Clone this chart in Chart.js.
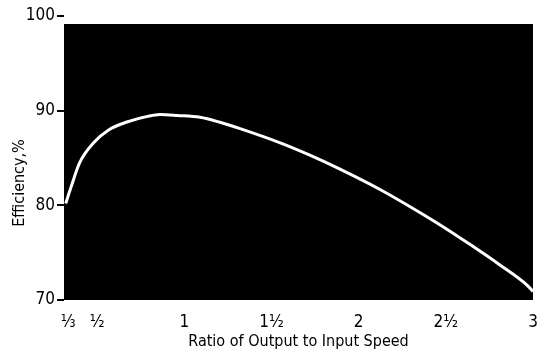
<!DOCTYPE html>
<html>
<head>
<meta charset="utf-8">
<script src="https://cdn.jsdelivr.net/npm/chart.js@4"></script>
<style>
  html, body { margin: 0; padding: 0; background: #fff; }
  #wrap { width: 559px; height: 355px; }
</style>
</head>
<body>
<div id="wrap"><canvas id="effChart" width="559" height="355"></canvas></div>
<script>
// speed ratio (output / input) and efficiency
var ratios = [0.32, 0.35, 0.40, 0.48, 0.57, 0.67, 0.79, 0.86, 0.96, 1.09, 1.20, 1.32, 1.55, 1.72, 1.89, 2.12, 2.30, 2.47, 2.64, 2.81, 2.97, 3.00];
var efficiency = [80.2, 81.9, 84.5, 86.6, 88.0, 88.8, 89.4, 89.6, 89.5, 89.3, 88.8, 88.1, 86.6, 85.3, 83.85, 81.7, 79.8, 77.9, 75.85, 73.7, 71.5, 70.9];

var xTickValues = [1 / 3, 1 / 2, 1, 1.5, 2, 2.5, 3];
var xTickLabels = ['\u2153', '\u00BD', '1', '1\u00BD', '2', '2\u00BD', '3'];
var yTickValues = [70, 80, 90, 100];

var narrow = '"Liberation Sans Narrow", "DejaVu Sans Condensed", sans-serif';

var points = ratios.map(function(r, i) { return { x: r, y: efficiency[i] }; });

var blackPanel = {
  id: 'blackPanel',
  beforeDatasetsDraw: function(chart) {
    var a = chart.chartArea, c = chart.ctx;
    c.save();
    c.fillStyle = '#000';
    c.fillRect(a.left, a.top + 8, a.right - a.left, a.bottom - a.top - 8);
    c.restore();
  }
};

var yTitle = {
  id: 'yTitle',
  afterDraw: function(chart) {
    var c = chart.ctx;
    c.save();
    c.translate(20, 183);
    c.rotate(-Math.PI / 2);
    c.fillStyle = '#000';
    c.font = '16px ' + narrow;
    c.textAlign = 'center';
    c.textBaseline = 'middle';
    c.fillText('Efficiency,%', 0, 0);
    c.restore();
  }
};

new Chart(document.getElementById('effChart'), {
  type: 'line',
  data: {
    datasets: [{
      data: points,
      borderColor: '#fff',
      borderWidth: 3,
      pointRadius: 0,
      cubicInterpolationMode: 'monotone',
      fill: false
    }]
  },
  options: {
    responsive: false,
    animation: false,
    layout: { padding: { left: 0, right: 26, top: 16, bottom: 0 } },
    plugins: { legend: { display: false }, tooltip: { enabled: false } },
    scales: {
      x: {
        type: 'linear',
        min: 0.31,
        max: 3,
        afterBuildTicks: function(axis) {
          axis.ticks = xTickValues.map(function(v) { return { value: v }; });
        },
        afterFit: function(axis) { axis.height = 55; },
        grid: { display: false, drawOnChartArea: false },
        border: { display: false },
        ticks: {
          autoSkip: false,
          maxRotation: 0,
          padding: 4,
          color: '#000',
          font: { family: narrow, size: 17 },
          callback: function(v) {
            var i = xTickValues.findIndex(function(t) { return Math.abs(t - v) < 1e-6; });
            return i >= 0 ? xTickLabels[i] : '';
          }
        },
        title: {
          display: true,
          text: 'Ratio of Output to Input Speed',
          color: '#000',
          font: { family: narrow, size: 16 },
          padding: { top: 2 }
        }
      },
      y: {
        min: 70,
        max: 100,
        afterBuildTicks: function(axis) {
          axis.ticks = yTickValues.map(function(v) { return { value: v }; });
        },
        afterFit: function(axis) { axis.width = 64; },
        grid: { display: true, drawOnChartArea: false, drawTicks: true, tickLength: 7, color: '#000', lineWidth: 2 },
        border: { display: false },
        ticks: {
          padding: 2,
          color: '#000',
          font: { family: narrow, size: 17 }
        }
      }
    }
  },
  plugins: [blackPanel, yTitle]
});
</script>
</body>
</html>
